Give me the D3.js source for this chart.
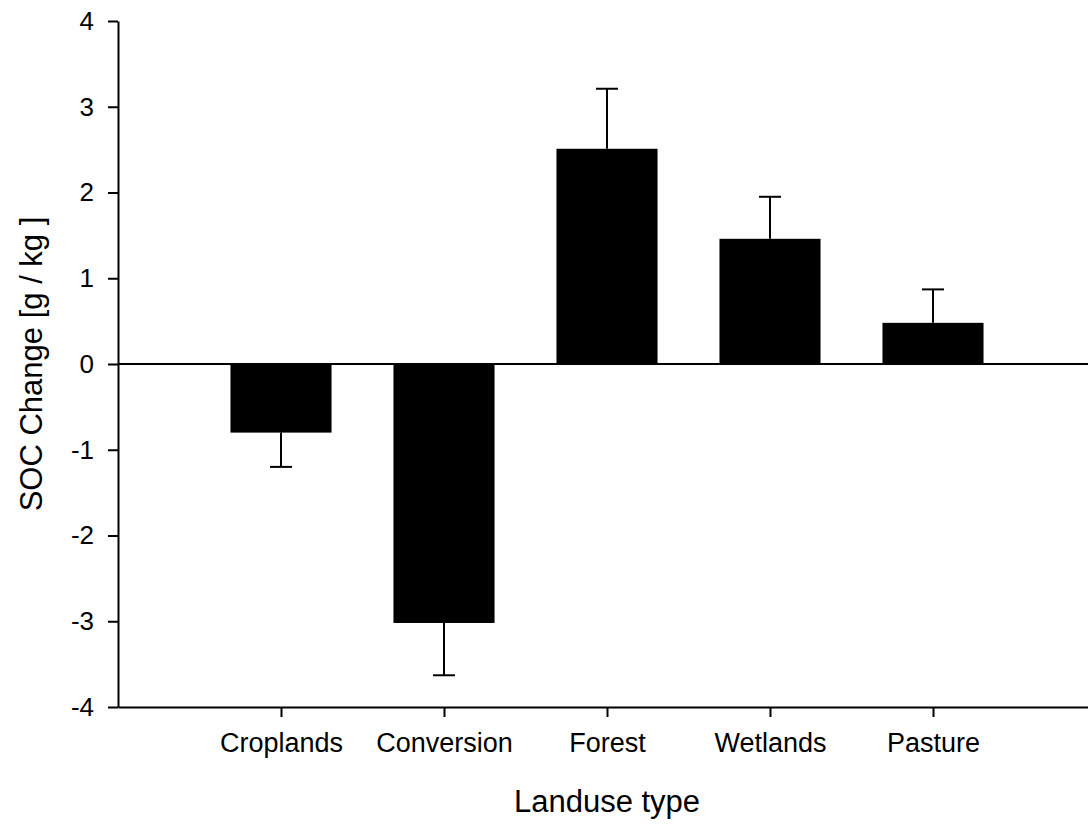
<!DOCTYPE html>
<html>
<head>
<meta charset="utf-8">
<script src="https://cdn.jsdelivr.net/npm/d3@7"></script>
<style>
  body { margin: 0; background: #fff; }
  text { font-family: "Liberation Sans", Arial, sans-serif; fill: #000; }
</style>
</head>
<body>
<svg id="chart" width="1088" height="824"></svg>
<script>
// landuse categories and SOC change (mean, one-sided error)
var categories = ["Croplands", "Conversion", "Forest", "Wetlands", "Pasture"];
var socMean = [-0.80, -3.02, 2.51, 1.46, 0.48];
var socErr  = [0.40, 0.61, 0.70, 0.49, 0.39];
var yTicks  = [-4, -3, -2, -1, 0, 1, 2, 3, 4];

var svg = d3.select("#chart");
var plotLeft = 118, plotTop = 21, plotBottom = 707, plotRight = 1096;

var x = d3.scalePoint()
    .domain(categories)
    .range([plotLeft, plotRight])
    .padding(1);

var y = d3.scaleLinear()
    .domain([-4, 4])
    .range([plotBottom, plotTop]);

var barW = x.step() * 0.62;

var data = categories.map(function(c, i) {
    return { cat: c, v: socMean[i], e: socErr[i] };
});

// bars
svg.selectAll("rect.bar")
    .data(data)
    .enter()
    .append("rect")
    .attr("class", "bar")
    .attr("fill", "#000")
    .attr("x", function(d) { return x(d.cat) - barW / 2; })
    .attr("width", barW)
    .attr("y", function(d) { return y(Math.max(0, d.v)); })
    .attr("height", function(d) { return Math.abs(y(d.v) - y(0)); });

// error bars, only away from zero
var tipOf = function(d) { return d.v >= 0 ? d.v + d.e : d.v - d.e; };
var capW = 22;

svg.selectAll("line.err")
    .data(data)
    .enter()
    .append("line")
    .attr("class", "err")
    .attr("stroke", "#000")
    .attr("stroke-width", 2)
    .attr("x1", function(d) { return x(d.cat); })
    .attr("x2", function(d) { return x(d.cat); })
    .attr("y1", function(d) { return y(d.v); })
    .attr("y2", function(d) { return y(tipOf(d)); });

svg.selectAll("line.cap")
    .data(data)
    .enter()
    .append("line")
    .attr("class", "cap")
    .attr("stroke", "#000")
    .attr("stroke-width", 2)
    .attr("x1", function(d) { return x(d.cat) - capW / 2; })
    .attr("x2", function(d) { return x(d.cat) + capW / 2; })
    .attr("y1", function(d) { return y(tipOf(d)); })
    .attr("y2", function(d) { return y(tipOf(d)); });

// zero line
svg.append("line")
    .attr("stroke", "#000")
    .attr("stroke-width", 2)
    .attr("x1", plotLeft)
    .attr("x2", plotRight)
    .attr("y1", y(0))
    .attr("y2", y(0));

// axes
var yAxis = svg.append("g")
    .attr("transform", "translate(" + plotLeft + ",0)")
    .call(d3.axisLeft(y)
        .tickValues(yTicks)
        .tickFormat(function(d) { return String(d); })
        .tickSize(10)
        .tickSizeOuter(0)
        .tickPadding(14));

var xAxis = svg.append("g")
    .attr("transform", "translate(0," + plotBottom + ")")
    .call(d3.axisBottom(x)
        .tickSize(10)
        .tickSizeOuter(0)
        .tickPadding(16));

svg.selectAll(".domain, .tick line")
    .attr("stroke", "#000")
    .attr("stroke-width", 2);

yAxis.selectAll("text")
    .attr("font-size", 26)
    .attr("font-family", "Liberation Sans, Arial, sans-serif")
    .attr("fill", "#000");

xAxis.selectAll("text")
    .attr("font-size", 27)
    .attr("font-family", "Liberation Sans, Arial, sans-serif")
    .attr("fill", "#000");

// titles
svg.append("text")
    .attr("x", x("Forest"))
    .attr("y", 812)
    .attr("text-anchor", "middle")
    .attr("font-size", 31)
    .text("Landuse type");

svg.append("text")
    .attr("transform", "translate(42," + y(0) + ") rotate(-90)")
    .attr("text-anchor", "middle")
    .attr("font-size", 31)
    .text("SOC Change [g / kg ]");
</script>
</body>
</html>
